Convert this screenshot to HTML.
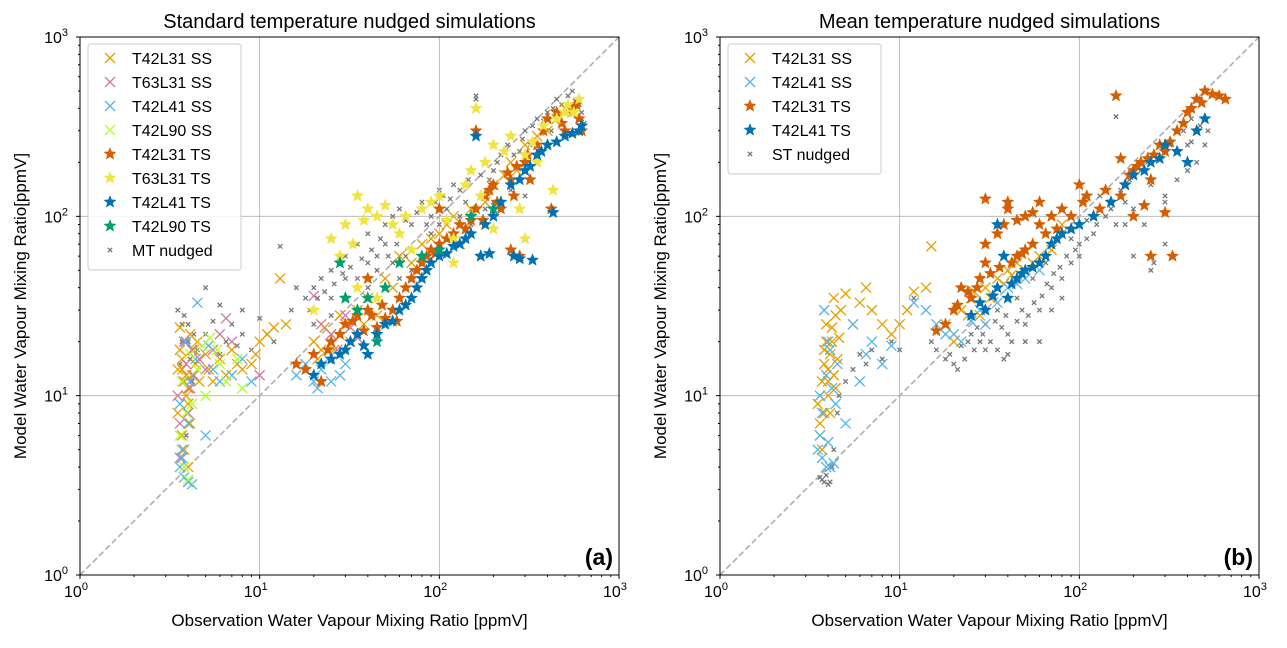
<!DOCTYPE html>
<html><head><meta charset="utf-8"><style>
body{margin:0;background:#fff}
svg{font-family:"Liberation Sans","DejaVu Sans",sans-serif}
</style></head><body>
<svg id="c" width="1287" height="643"></svg>
<script>
// ---- data (left panel) ----
const L_T42L31SS=[[3.6,18],[3.7,14],[3.8,12],[3.9,10],[4,9],[4.1,22],[3.5,8],[3.7,6],[4.2,13],[4.4,15],[5,17],[6,16],[7,18],[9,15],[10,20],[13,45],[14,25],[20,20],[22,18],[25,22],[28,28],[30,25],[35,30],[40,35],[50,45],[60,60],[80,70],[100,80],[120,100],[150,110],[200,150],[250,200],[300,250],[400,300],[500,400],[3.8,5],[4,4],[4.5,20],[5.5,12],[8,14],[3.6,24],[3.7,16],[3.9,13],[4,11],[4.1,7],[3.5,14],[4.3,18],[4.6,12],[5.2,14],[6.5,13],[7.5,15],[9.5,17],[11,22],[12,24],[21,16],[23,24],[26,18],[32,20],[38,25],[45,28],[55,40],[70,55],[90,75],[110,90],[130,70],[180,120],[230,170],[270,180],[350,280],[450,350],[550,380]];
const L_T63L31SS=[[3.5,10],[3.7,12],[3.9,15],[4,8],[4.2,18],[5,14],[6.5,27],[7,20],[10,13],[20,36],[25,22],[30,28],[35,21],[3.6,4.5],[4.1,11],[3.8,20],[4.3,13],[4.6,16],[5.5,18],[6,22],[22,25],[27,18],[32,24],[3.6,7]];
const L_T42L41SS=[[3.6,4],[3.8,3.5],[4,3.3],[4.2,3.2],[3.7,5],[4.5,33],[5,6],[5.2,19],[6,12],[8,16],[16,13],[20,12],[22,14],[25,12],[30,15],[4,7],[3.9,20],[3.6,9],[4.1,12],[4.4,16],[5.5,14],[7,13],[9,12],[18,15],[21,11],[24,16],[28,13],[3.7,4.5]];
const L_T42L90SS=[[3.6,6],[3.8,4],[4,3.4],[4.2,9],[5,10],[5.3,21],[6,15],[8,11],[3.7,12],[4.5,14],[3.9,8],[4.1,17],[4.8,19],[5.8,18],[6.5,12],[7.5,16]];
const L_T42L31TS=[[16,15],[20,17],[25,20],[30,25],[35,28],[40,30],[45,24],[50,27],[55,30],[60,35],[70,45],[80,55],[90,65],[100,70],[120,80],[150,95],[170,60],[180,130],[200,150],[220,110],[250,160],[250,65],[300,200],[320,160],[350,250],[400,350],[450,380],[500,300],[550,400],[600,350],[160,300],[30,35],[40,45],[22,12],[100,110],[130,90],[280,60],[420,110],[18,14],[24,18],[28,22],[33,26],[38,23],[42,28],[48,32],[58,26],[65,40],[75,50],[85,60],[95,62],[110,75],[140,85],[190,140],[210,120],[240,175],[270,190],[310,220],[380,300],[480,330],[580,420],[620,300],[260,130],[160,110],[175,95]];
const L_T63L31TS=[[25,75],[30,90],[35,130],[40,110],[50,115],[60,80],[80,110],[100,130],[120,55],[150,180],[200,250],[250,280],[300,220],[350,200],[400,250],[450,350],[500,380],[600,450],[160,400],[300,75],[430,140],[20,30],[35,40],[45,35],[70,65],[120,75],[280,110],[28,60],[33,70],[38,95],[45,100],[55,90],[65,100],[90,120],[110,95],[140,150],[180,200],[230,230],[330,260],[380,320],[520,420],[560,380],[170,130],[200,85]];
const L_T42L41TS=[[20,13],[25,16],[30,18],[35,22],[40,17],[50,25],[60,30],[70,35],[80,45],[90,55],[100,60],[130,70],[150,80],[170,60],[200,100],[250,150],[260,60],[300,180],[330,57],[350,220],[400,250],[430,105],[500,280],[600,300],[160,280],[22,15],[28,17],[32,20],[38,19],[45,22],[55,26],[65,32],[75,40],[85,50],[110,62],[120,68],[140,75],[180,90],[220,120],[280,160],[320,190],[370,230],[450,260],[550,290],[620,320],[190,62],[280,58]];
const L_T42L90TS=[[28,55],[30,35],[40,35],[45,20],[60,55],[100,65],[200,110],[35,30],[50,40],[80,60],[150,100]];
const L_MT=[[3.5,30],[3.7,25],[4,20],[4.5,18],[5,22],[6,17],[7,25],[8,22],[9,18],[10,27],[12,20],[13,68],[15,30],[18,35],[20,40],[22,45],[25,50],[28,55],[30,60],[35,70],[40,80],[45,60],[50,90],[55,100],[60,110],[70,90],[80,120],[90,100],[100,140],[110,110],[120,150],[140,120],[150,180],[160,450],[180,200],[200,180],[220,220],[250,280],[280,230],[300,300],[320,250],[350,350],[400,380],[420,300],[450,450],[500,400],[550,500],[600,420],[620,350],[30,45],[40,55],[50,70],[60,80],[25,35],[35,45],[70,50],[100,90],[150,90],[200,120],[300,130],[3.6,15],[3.8,28],[4,25],[4.2,12],[3.9,6],[5,40],[6,32],[8,30],[20,25],[25,28],[40,40],[60,45],[80,60],[3.7,20],[4.1,16],[4.3,22],[5.5,26],[6.5,20],[7.5,19],[11,22],[16,40],[19,30],[21,35],[23,38],[26,42],[29,48],[32,52],[37,58],[42,65],[47,75],[52,60],[58,70],[65,95],[75,105],[85,90],[95,120],[105,130],[115,125],[130,140],[145,160],[170,170],[190,160],[210,200],[240,250],[260,220],[290,270],[330,320],[380,340],[430,400],[480,420],[520,470],[570,440],[620,380],[640,330],[160,470],[45,50],[55,55],[65,60],[90,80],[130,100],[180,110],[250,140],[350,200]];
// ---- data (right panel) ----
const R_T42L31SS=[[3.5,9],[3.6,6],[3.7,12],[3.8,18],[3.9,25],[4,14],[4.1,8],[4.2,20],[4.3,35],[4.4,11],[4.5,16],[3.7,5],[5,37],[6.5,40],[7,30],[8,25],[10,25],[12,38],[14,40],[15,68],[20,20],[22,30],[25,35],[28,28],[30,40],[35,45],[40,50],[45,55],[50,50],[60,60],[80,90],[3.6,10],[3.8,15],[3.9,20],[4.0,12],[4.1,17],[4.2,24],[4.3,13],[4.4,28],[4.6,21],[4.7,30],[3.6,7],[3.8,8],[4.0,10],[5.5,25],[6,33],[9,22],[11,30],[18,25],[24,28],[26,38],[32,35],[38,42],[42,47],[55,55],[70,65]];
const R_T42L41SS=[[3.5,5],[3.7,4.5],[3.9,4],[4.1,4],[4.3,4.2],[3.6,10],[3.8,30],[4,20],[4.5,15],[5,7],[5.5,25],[6,12],[7,20],[8,15],[12,33],[14,30],[18,22],[20,22],[25,26],[30,25],[40,40],[60,50],[3.7,8],[3.9,13],[4.1,18],[4.2,11],[4.4,9],[3.6,6],[4.0,5.5],[6.5,17],[9,19],[16,25],[22,20],[28,30],[35,33],[45,42],[50,45]];
const R_T42L31TS=[[16,23],[20,30],[22,40],[25,35],[28,45],[30,55],[35,80],[40,120],[45,60],[50,100],[60,90],[70,100],[80,110],[100,150],[110,130],[150,120],[160,470],[170,210],[180,150],[200,180],[220,200],[250,160],[250,60],[280,250],[300,230],[350,300],[400,380],[450,450],[500,500],[650,450],[30,125],[40,110],[50,65],[60,120],[120,100],[230,115],[330,60],[300,105],[18,25],[21,32],[24,38],[27,40],[32,48],[36,52],[42,55],[48,62],[55,70],[65,80],[75,85],[90,100],[105,120],[130,110],[140,140],[190,170],[210,190],[240,210],[260,220],[320,260],[380,330],[420,400],[480,430],[550,480],[600,470],[170,130],[200,100],[45,95],[55,105],[30,70],[38,90]];
const R_T42L41TS=[[25,28],[30,30],[35,40],[40,35],[45,45],[50,50],[60,55],[70,70],[80,80],[100,90],[150,120],[200,170],[250,200],[300,250],[400,200],[500,350],[35,90],[38,60],[28,33],[33,36],[42,42],[48,48],[55,52],[65,60],[75,75],[90,85],[120,100],[180,150],[230,180],[280,210],[350,230],[450,300]];
const R_ST=[[3.6,3.5],[3.8,3.3],[4,3.2],[4.2,4],[4.5,8],[5,12],[6,17],[7,18],[8,16],[9,20],[12,35],[15,20],[18,16],[20,15],[22,19],[25,22],[28,20],[30,25],[35,18],[40,22],[50,25],[60,30],[70,40],[80,45],[90,55],[100,70],[120,80],[140,100],[160,90],[180,120],[200,110],[250,150],[300,130],[350,160],[400,180],[450,300],[500,250],[450,200],[200,60],[250,50],[300,120],[400,250],[35,30],[45,35],[55,45],[65,55],[130,130],[160,360],[100,60],[80,35],[60,20],[40,17],[3.7,3.4],[3.9,3.6],[4.1,3.3],[4.3,5],[4.6,10],[5.5,14],[6.5,15],[10,18],[16,18],[19,17],[21,14],[23,16],[24,20],[26,18],[27,24],[29,22],[32,20],[34,26],[37,24],[39,28],[42,20],[45,26],[48,30],[52,28],[56,33],[62,36],[66,42],[72,48],[78,52],[85,60],[95,65],[110,75],[125,90],[150,110],[170,140],[190,160],[220,180],[240,200],[270,210],[320,250],[380,300],[420,350],[470,320],[520,300],[420,260],[90,75],[110,95],[230,90],[300,70],[260,55],[180,90],[70,30],[50,20],[30,18],[38,16]];
const tickLabels=["0","1","2","3"];

const NS="http://www.w3.org/2000/svg";
const svg=document.getElementById('c');
function el(t,a,p){const e=document.createElementNS(NS,t);for(const k in a)e.setAttribute(k,a[k]);(p||svg).appendChild(e);return e;}
function panel(x0,title,label,series,legend){
  const y0=37,W=539,H=538;
  const g=el('g',{});
  
  
  const sx=v=>x0+Math.log10(v)/3*W, sy=v=>y0+H-Math.log10(v)/3*H;
  for(let i=1;i<3;i++){
    el('line',{x1:sx(10**i),x2:sx(10**i),y1:y0,y2:y0+H,stroke:'#b0b0b0','stroke-width':0.8},g);
    el('line',{x1:x0,x2:x0+W,y1:sy(10**i),y2:sy(10**i),stroke:'#b0b0b0','stroke-width':0.8},g);
  }
  el('line',{x1:sx(1),y1:sy(1),x2:sx(1000),y2:sy(1000),stroke:'#aaa','stroke-width':1.5,'stroke-dasharray':'6,3'},g);
  for(let i=0;i<=3;i++){
    el('line',{x1:sx(10**i),x2:sx(10**i),y1:y0+H,y2:y0+H+4,stroke:'#000'},g);
    el('line',{x1:x0-4,x2:x0,y1:sy(10**i),y2:sy(10**i),stroke:'#000'},g);
    const tx=el('text',{x:sx(10**i)-4,y:y0+H+22,'font-size':16,'text-anchor':'middle'},g);
    
    tx.innerHTML='10<tspan dy="-7" font-size="11">'+tickLabels[i]+'</tspan>';
    const ty=el('text',{x:x0-12,y:sy(10**i)+6,'font-size':16,'text-anchor':'end'},g);
    
    ty.innerHTML='10<tspan dy="-7" font-size="11">'+tickLabels[i]+'</tspan>';
    for(let m=2;m<10&&i<3;m++){
      el('line',{x1:sx(m*10**i),x2:sx(m*10**i),y1:y0+H,y2:y0+H+2,stroke:'#000'},g);
      el('line',{x1:x0-2,x2:x0,y1:sy(m*10**i),y2:sy(m*10**i),stroke:'#000'},g);
    }
  }
  series.forEach(s=>{
    const sg=el('g',{},g);
    
    
    s.data.forEach(d=>marker(sg,s.m,sx(d[0]),sy(d[1]),s.c));
  });
  el('rect',{x:x0,y:y0,width:W,height:H,fill:'none',stroke:'#000','stroke-width':1},g);
  const t=el('text',{x:x0+W/2,y:28,'font-size':20,'text-anchor':'middle'},g);t.textContent=title;
  
  const xl=el('text',{x:x0+W/2,y:626,'font-size':17,'text-anchor':'middle'},g);xl.textContent='Observation Water Vapour Mixing Ratio [ppmV]';
  
  const yl=el('text',{x:0,y:0,'font-size':17,'text-anchor':'middle',transform:`translate(${x0-54},${y0+H/2}) rotate(-90)`},g);yl.textContent='Model Water Vapour Mixing Ratio[ppmV]';
  
  const pl=el('text',{x:x0+W-6,y:y0+H-10,'font-size':23,'text-anchor':'end','font-weight':'bold'},g);pl.textContent=label;
  
  const lg=el('g',{},g);
  
  const lh=legend.length*24+10;
  el('rect',{x:x0+8,y:44,width:153,height:lh,rx:3,fill:'#fff','fill-opacity':0.85,stroke:'#ccc'},lg);
  legend.forEach((s,i)=>{
    const ey=58+i*24;
    const eg=el('g',{},lg);
    
    marker(eg,s.m,x0+30,ey,s.c);
    const tt=el('text',{x:x0+52,y:ey+6,'font-size':16},eg);tt.textContent=s.name;
  });
}
function marker(p,m,x,y,c){
  if(m==='x'){const r=5;el('path',{d:`M${x-r},${y-r}L${x+r},${y+r}M${x-r},${y+r}L${x+r},${y-r}`,stroke:c,'stroke-width':1.3,fill:'none'},p);}
  else if(m==='s'){const r=2.2;el('path',{d:`M${x-r},${y-r}L${x+r},${y+r}M${x-r},${y+r}L${x+r},${y-r}`,stroke:c,'stroke-width':1.3,fill:'none'},p);}
  else{let pts=[];for(let k=0;k<10;k++){const a=-Math.PI/2+k*Math.PI/5,r=k%2?2.7:6.3;pts.push((x+r*Math.cos(a)).toFixed(1)+','+(y+r*Math.sin(a)).toFixed(1));}
    el('polygon',{points:pts.join(' '),fill:c,stroke:c,'stroke-width':0.5},p);}
}
const left=[
 {name:'MT nudged',m:'s',c:'#777',data:L_MT},
 {name:'T42L31 SS',m:'x',c:'#E69F00',data:L_T42L31SS},
 {name:'T63L31 SS',m:'x',c:'#CC79A7',data:L_T63L31SS},
 {name:'T42L41 SS',m:'x',c:'#56B4E9',data:L_T42L41SS},
 {name:'T42L90 SS',m:'x',c:'#ADFF2F',data:L_T42L90SS},
 {name:'T42L31 TS',m:'*',c:'#D55E00',data:L_T42L31TS},
 {name:'T63L31 TS',m:'*',c:'#F0E442',data:L_T63L31TS},
 {name:'T42L41 TS',m:'*',c:'#0072B2',data:L_T42L41TS},
 {name:'T42L90 TS',m:'*',c:'#009E73',data:L_T42L90TS}];
panel(80,'Standard temperature nudged simulations','(a)',left,[...left.slice(1),left[0]]);
const right=[
 {name:'ST nudged',m:'s',c:'#777',data:R_ST},
 {name:'T42L31 SS',m:'x',c:'#E69F00',data:R_T42L31SS},
 {name:'T42L41 SS',m:'x',c:'#56B4E9',data:R_T42L41SS},
 {name:'T42L31 TS',m:'*',c:'#D55E00',data:R_T42L31TS},
 {name:'T42L41 TS',m:'*',c:'#0072B2',data:R_T42L41TS}];
panel(720,'Mean temperature nudged simulations','(b)',right,[...right.slice(1),right[0]]);
</script>
</body></html>
